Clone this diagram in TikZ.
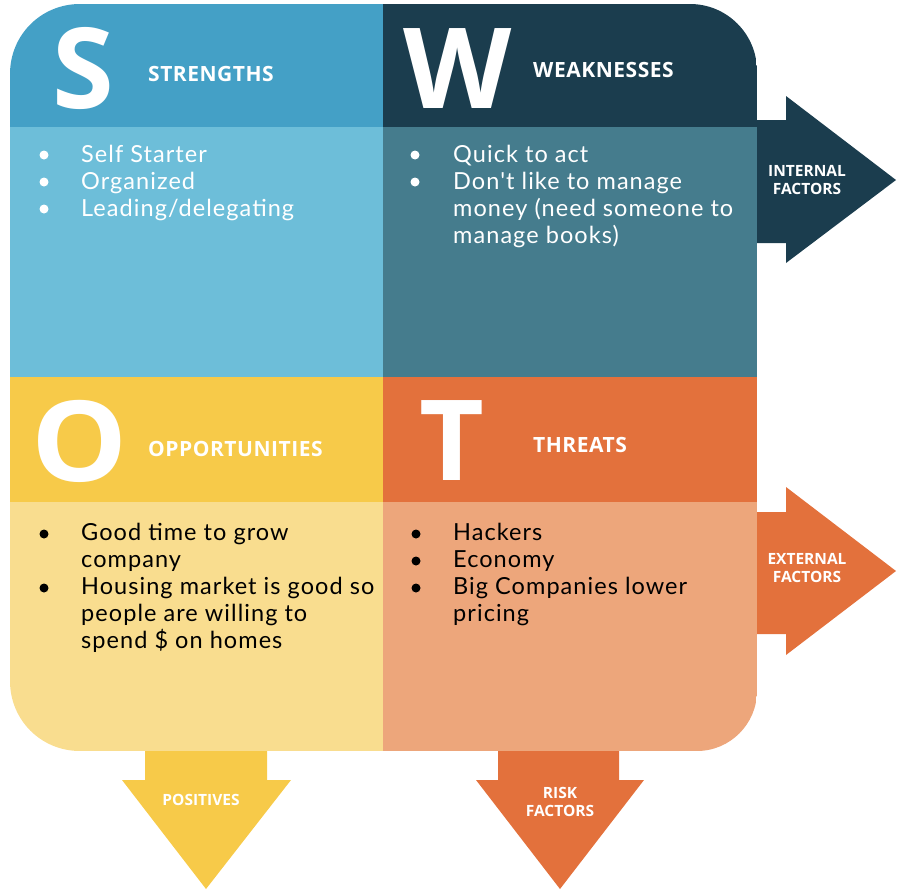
\documentclass[tikz,border=0pt]{standalone}
\usepackage{fontspec}
\setmainfont{Lato}[LetterSpace=4.5, Ligatures=TeXOff]
\newfontfamily\headfont{Open Sans}
\newfontfamily\labelfont{Open Sans}[LetterSpace=2.5]
\definecolor{Sh}{HTML}{44A0C6}
\definecolor{Sb}{HTML}{6DBED9}
\definecolor{Wh}{HTML}{1B3D4E}
\definecolor{Wb}{HTML}{457C8D}
\definecolor{Oh}{HTML}{F7CA49}
\definecolor{Ob}{HTML}{F9DD8F}
\definecolor{Th}{HTML}{E3713C}
\definecolor{Tb}{HTML}{EDA67B}
\tikzset{
  bigletter/.style={anchor=base, inner sep=0, text=white, font=\headfont\bfseries\fontsize{112}{112}\selectfont},
  headlabel/.style={anchor=base west, inner sep=0, text=white, font=\labelfont\bfseries\fontsize{21}{21}\selectfont},
  arrowlabel/.style={inner sep=0, text=white, align=center, font=\headfont\bfseries\fontsize{15.5}{18}\selectfont},
  bodyline/.style={anchor=base west, inner sep=0, font=\fontsize{23.5}{27}\selectfont},
  bul/.style={circle, inner sep=0, minimum size=9pt},
}
\begin{document}
\begin{tikzpicture}[x=1pt,y=-1pt]
\useasboundingbox (0,0) rectangle (902,894);
% side and bottom arrows
\fill[Wh] (757,120) -- (786,120) -- (786,96) -- (896,180) -- (786,263) -- (786,243) -- (757,243) -- cycle;
\fill[Th] (757,512) -- (786,512) -- (786,487) -- (896,571) -- (786,655) -- (786,634) -- (757,634) -- cycle;
\fill[Oh] (145,745) -- (145,780) -- (122,780) -- (206,889) -- (291,780) -- (267,780) -- (267,745) -- cycle;
\fill[Th] (498,745) -- (498,780) -- (476,780) -- (560,889) -- (644,780) -- (619,780) -- (619,745) -- cycle;
% main square
\begin{scope}
\clip (80,4) -- (690,4) .. controls (727,4) and (757,34) .. (757,71) -- (757,691) .. controls (757,724) and (730,751) .. (697,751) -- (80,751) .. controls (41,751) and (10,720) .. (10,681) -- (10,74) .. controls (10,35) and (41,4) .. (80,4) -- cycle;
\fill[Sh] (10,4) rectangle (383,127);
\fill[Sb] (10,127) rectangle (383,377);
\fill[Wh] (383,4) rectangle (757,127);
\fill[Wb] (383,127) rectangle (757,377);
\fill[Oh] (10,377) rectangle (383,502);
\fill[Ob] (10,502) rectangle (383,751);
\fill[Th] (383,377) rectangle (757,502);
\fill[Tb] (383,502) rectangle (757,751);
\end{scope}
% big letters and headings
\node[bigletter] (S) at (83.5,108) {S};
\node[bigletter] (W) at (458,108) {W};
\node[bigletter, xscale=1.08] (O) at (79.5,481) {O};
\node[bigletter] (T) at (452,480) {T};
\node[headlabel] (sl) at (148,81) {STRENGTHS};
\node[headlabel] (wl) at (533,77) {WEAKNESSES};
\node[headlabel] (ol) at (148,456) {OPPORTUNITIES};
\node[headlabel] (tl) at (533,452) {THREATS};
% strengths
\node[bul, fill=white] (sb1) at (44,155) {};
\node[bul, fill=white] (sb2) at (44,182) {};
\node[bul, fill=white] (sb3) at (44,209) {};
\node[bodyline, text=white] (s1) at (81,162) {Self Starter};
\node[bodyline, text=white] (s2) at (81,189) {Organized};
\node[bodyline, text=white] (s3) at (81,216) {Leading/delegating};
% weaknesses
\node[bul, fill=white] (wb1) at (415,155) {};
\node[bul, fill=white] (wb2) at (415,182) {};
\node[bodyline, text=white] (w1) at (453,162) {Quick to act};
\node[bodyline, text=white] (w2) at (453,189) {Don't like to manage};
\node[bodyline, text=white] (w3) at (453,216) {money (need someone to};
\node[bodyline, text=white] (w4) at (453,243) {manage books)};
% opportunities
\node[bul, fill=black] (ob1) at (44,534) {};
\node[bul, fill=black] (ob2) at (44,588) {};
\node[bodyline, text=black] (o1) at (81,540) {Good time to grow};
\node[bodyline, text=black] (o2) at (81,567) {company};
\node[bodyline, text=black] (o3) at (81,594) {Housing market is good so};
\node[bodyline, text=black] (o4) at (81,621) {people are willing to};
\node[bodyline, text=black] (o5) at (81,648) {spend \$ on homes};
% threats
\node[bul, fill=black] (tb1) at (416,534) {};
\node[bul, fill=black] (tb2) at (416,561) {};
\node[bul, fill=black] (tb3) at (416,588) {};
\node[bodyline, text=black] (t1) at (453,540) {Hackers};
\node[bodyline, text=black] (t2) at (453,567) {Economy};
\node[bodyline, text=black] (t3) at (453,594) {Big Companies lower};
\node[bodyline, text=black] (t4) at (453,621) {pricing};
% arrow labels
\node[arrowlabel] (int) at (807,180) {INTERNAL\\FACTORS};
\node[arrowlabel] (ext) at (807,568) {EXTERNAL\\FACTORS};
\node[arrowlabel] (pos) at (201,800) {POSITIVES};
\node[arrowlabel] (risk) at (560,802) {RISK\\FACTORS};
\end{tikzpicture}
\end{document}
